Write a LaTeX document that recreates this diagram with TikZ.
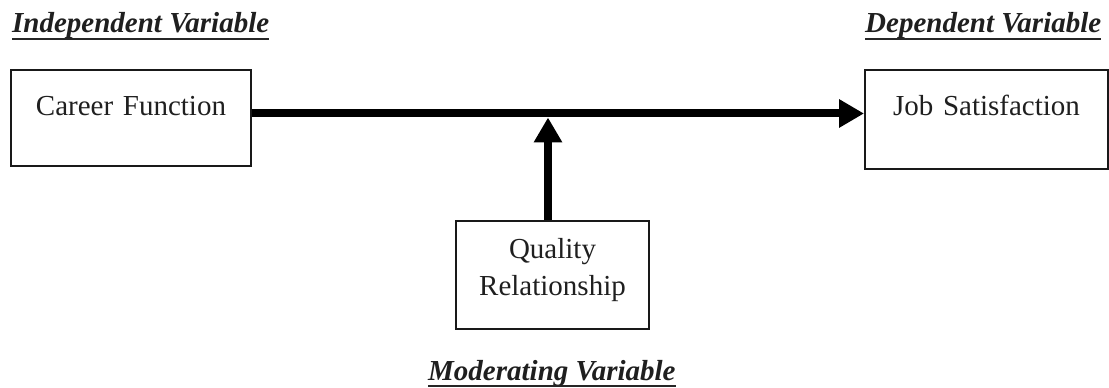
\documentclass[tikz,border=0pt]{standalone}
\usepackage{fontspec}
\setmainfont{Liberation Serif}
\usetikzlibrary{arrows.meta,calc}
\begin{document}
\begin{tikzpicture}[x=1pt,y=1pt,
  txt/.style={font=\fontsize{29pt}{37pt}\selectfont, text=black!88},
  varbox/.style={draw=black!90, line width=2pt, inner sep=0pt, align=center, txt},
  heading/.style={inner sep=0pt, anchor=base west, txt, font=\fontsize{29pt}{37pt}\selectfont\bfseries\itshape},
  uline/.style={draw=black!85, line width=2pt},
  thickarrow/.style={draw=black, line width=8pt, -{Triangle[length=25pt,width=27pt]}}
]
\useasboundingbox (0,0) rectangle (1109,388);
% boxes
\node[varbox, anchor=north west, text width=240pt, text height=46pt, text depth=50pt] (cf) at (10,319) {Career Function};
\node[varbox, anchor=north west, text width=243pt, text height=46pt, text depth=53pt] (js) at (864,319) {Job Satisfaction};
\node[varbox, anchor=north west, text width=193pt, text height=38pt, text depth=70pt] (qr) at (455,168) {Quality\\Relationship};
% headings
\node[heading] (iv) at (12,355) {Independent Variable};
\node[heading] (dv) at (865,355) {Dependent Variable};
\node[heading] (mv) at (428,7) {Moderating Variable};
\draw[uline] ([yshift=-6pt]iv.base west) -- ([yshift=-6pt]iv.base east);
\draw[uline] ([yshift=-6pt]dv.base west) -- ([yshift=-6pt]dv.base east);
\draw[uline] ([yshift=-5pt]mv.base west) -- ([yshift=-5pt]mv.base east);
% connectors
\coordinate (hl) at ([yshift=4.5pt]cf.east);
\coordinate (mj) at ([yshift=-4pt,xshift=-4.5pt]hl -| qr.north);
\draw[thickarrow] (hl) -- (hl -| js.west);
\draw[thickarrow] ([xshift=-4.5pt]qr.north) -- (mj);
\end{tikzpicture}
\end{document}
